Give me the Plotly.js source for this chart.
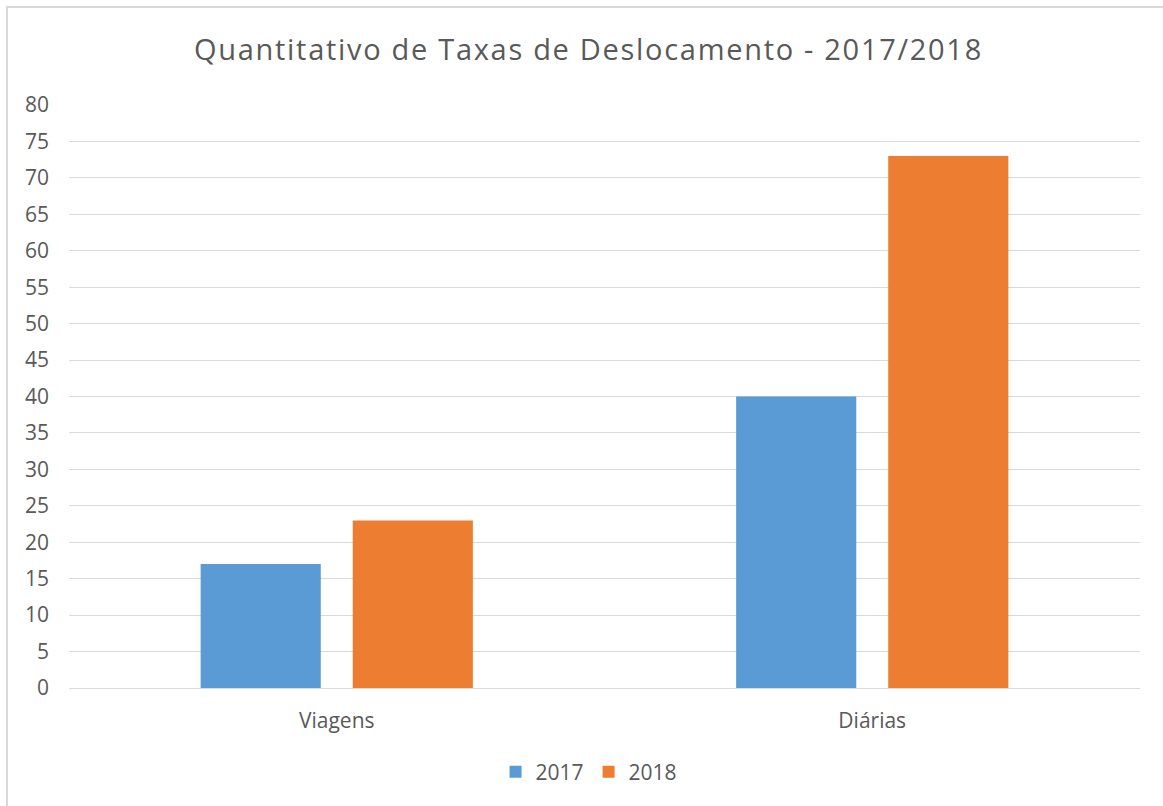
<!DOCTYPE html>
<html>
<head>
<meta charset="utf-8">
<script src="https://cdn.plot.ly/plotly-3.0.1.min.js"></script>
<style>
html,body{margin:0;padding:0;background:#fff;overflow:hidden;}
#frame{position:absolute;left:6px;top:6px;width:1200px;height:900px;border-left:2px solid #d9d9d9;border-top:2px solid #d9d9d9;pointer-events:none;}
#chart{position:absolute;left:0;top:0;width:1163px;height:806px;}
#chart .gtitle{letter-spacing:1.7px;}
</style>
</head>
<body>
<div id="chart"></div>
<div id="frame"></div>
<script>
var categories = ["Viagens", "Diárias"];
var series2017 = [17, 40];
var series2018 = [23, 73];
var yTicks = [0, 5, 10, 15, 20, 25, 30, 35, 40, 45, 50, 55, 60, 65, 70, 75, 80];

var FONT = "Open Sans, sans-serif";
var TXT = "#595959";

var traces = [
  {type: "bar", name: "2017", x: categories, y: series2017, marker: {color: "#5B9BD5"}, hoverinfo: "y"},
  {type: "bar", name: "2018", x: categories, y: series2018, marker: {color: "#ED7D31"}, hoverinfo: "y"}
];

var layout = {
  width: 1163, height: 806,
  paper_bgcolor: "#ffffff", plot_bgcolor: "#ffffff",
  margin: {l: 69, r: 23, t: 105, b: 118},
  font: {family: FONT, color: TXT},
  title: {
    text: "Quantitativo de Taxas de Deslocamento - 2017/2018",
    font: {family: FONT, size: 29, color: TXT},
    xref: "container", x: 0.506, xanchor: "center",
    yref: "container", y: 1 - 50/806, yanchor: "middle"
  },
  barmode: "group",
  bargap: 0.432,
  bargroupgap: 0.21,
  xaxis: {
    type: "category",
    tickfont: {family: FONT, size: 21, color: TXT},
    showgrid: false, zeroline: false, showline: false,
    ticks: "", ticklabelstandoff: 18
  },
  yaxis: {
    range: [0, 80],
    tickvals: yTicks,
    ticktext: yTicks.map(String),
    tickfont: {family: FONT, size: 21, color: TXT},
    showgrid: true, gridcolor: "#d9d9d9", gridwidth: 1,
    zeroline: true, zerolinecolor: "#d9d9d9", zerolinewidth: 1,
    showline: false, ticks: "", ticklabelstandoff: 19
  },
  showlegend: true,
  legend: {
    orientation: "h",
    xref: "container", x: 0.5065, xanchor: "center",
    yref: "container", y: 1 - 772/806, yanchor: "middle",
    font: {family: FONT, size: 21, color: TXT},
    itemwidth: 30, traceorder: "normal"
  }
};

Plotly.newPlot("chart", traces, layout, {displayModeBar: false, staticPlot: true});
</script>
</body>
</html>
